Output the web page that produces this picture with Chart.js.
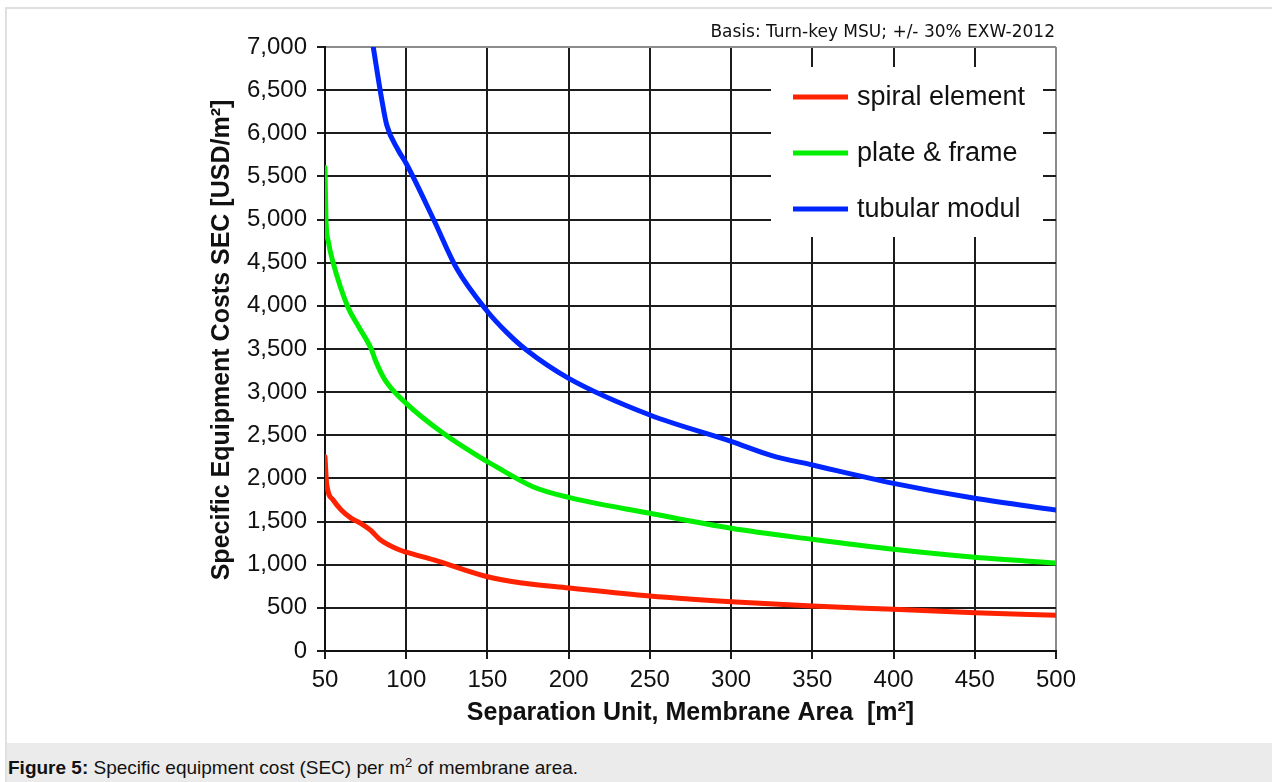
<!DOCTYPE html>
<html><head><meta charset="utf-8">
<script src="https://cdn.jsdelivr.net/npm/chart.js@4/dist/chart.umd.min.js"></script>
<style>
html,body{margin:0;padding:0;background:#fff;width:1272px;height:782px;overflow:hidden;font-family:"Liberation Sans",Arial,sans-serif;}
#frame{position:absolute;left:5px;top:7px;width:1290px;height:800px;border-left:2px solid #e0e0e0;border-top:2px solid #e0e0e0;}
#caption{position:absolute;left:7px;top:743px;width:1290px;height:45px;background:#ebebeb;color:#111;font-size:19px;}
#caption .t{position:absolute;left:1px;top:14px;white-space:nowrap;}
#caption sup{font-size:13px;vertical-align:7px;line-height:0;}
#wrap{position:absolute;left:0;top:0;width:1272px;height:743px;}
#basis{position:absolute;right:217px;top:21px;font-family:"DejaVu Sans";font-size:17px;color:#111;white-space:nowrap;}
</style></head>
<body>
<div id="frame"></div>
<div id="caption"><div class="t"><b>Figure 5:</b> Specific equipment cost (SEC) per m<sup>2</sup> of membrane area.</div></div>
<div id="wrap"><canvas id="c" width="1272" height="743"></canvas></div>
<div id="basis">Basis: Turn-key MSU; +/- 30% EXW-2012</div>
<script>
// ---- data ----
const seriesLabels = ['spiral element', 'plate & frame', 'tubular modul'];
const seriesColors = ['#ff2200', '#00ee00', '#0026ff'];

const spiralArea = [50, 51, 55, 60, 66, 72, 78, 84, 96, 100, 117, 150, 170, 200, 250, 300, 350, 400, 450, 500];
const spiralCost = [2250, 1940, 1750, 1635, 1540, 1480, 1400, 1290, 1170, 1145, 1055, 860, 790, 730, 637, 571, 521, 483, 444, 415];

const plateArea = [50, 50.6, 52, 55, 64, 71, 78.7, 81, 87, 100, 123, 145, 150, 178, 200, 250, 300, 350, 400, 450, 500];
const plateCost = [5600, 5000, 4750, 4500, 3990, 3750, 3490, 3370, 3140, 2870, 2520, 2250, 2195, 1904, 1780, 1596, 1422, 1294, 1178, 1086, 1020];

const tubularArea = [79.7, 85, 88, 95, 100, 117, 131, 150, 162, 174, 200, 250, 300, 325, 350, 400, 450, 500];
const tubularCost = [7000, 6385, 6096, 5806, 5650, 4995, 4435, 3935, 3690, 3488, 3160, 2735, 2430, 2265, 2156, 1943, 1770, 1634];

const xMin = 50, xMax = 500, xStep = 50;
const yMin = 0, yMax = 7000, yStep = 500;

const xTitle = 'Separation Unit, Membrane Area  [m²]';
const yTitle = 'Specific Equipment Costs SEC [USD/m²]';

function pts(xs, ys){ return xs.map((x,i)=>({x:x, y:ys[i]})); }

const GRID = '#1c1c1c', FRAME = '#8c8c8c', TXT = '#111';
const FONT = '"Liberation Sans", Arial, sans-serif';

const legendPlugin = {
  id: 'boxLegend',
  afterDatasetsDraw(chart){
    const ctx = chart.ctx, a = chart.chartArea;
    const bx = a.right - 285, by = a.top + 20, bw = 272, bh = 170;
    ctx.save();
    ctx.fillStyle = '#fff';
    ctx.fillRect(bx, by, bw, bh);
    chart.data.datasets.forEach((ds, i)=>{
      const cy = by + 30 + i*56;
      ctx.strokeStyle = ds.borderColor;
      ctx.lineWidth = 5;
      ctx.beginPath(); ctx.moveTo(bx+22, cy); ctx.lineTo(bx+77, cy); ctx.stroke();
      ctx.fillStyle = TXT;
      ctx.font = '27px ' + FONT;
      ctx.textBaseline = 'middle'; ctx.textAlign = 'left';
      ctx.fillText(ds.label, bx+86, cy+1);
    });
    ctx.restore();
  }
};

// y-axis title drawn slightly above the plot centre, as in the reference
const yTitlePlugin = {
  id: 'yTitle',
  afterDraw(chart){
    const ctx = chart.ctx, a = chart.chartArea, ys = chart.scales.y;
    ctx.save();
    ctx.translate(ys.left + 22, (a.top + a.bottom) / 2 - 9);
    ctx.rotate(-Math.PI / 2);
    ctx.font = 'bold 25px ' + FONT;
    ctx.fillStyle = TXT;
    ctx.textAlign = 'center'; ctx.textBaseline = 'middle';
    ctx.fillText(yTitle, 0, 0);
    ctx.restore();
  }
};

new Chart(document.getElementById('c'), {
  type: 'line',
  data: {
    datasets: [
      {label: seriesLabels[0], data: pts(spiralArea, spiralCost), borderColor: seriesColors[0]},
      {label: seriesLabels[1], data: pts(plateArea, plateCost), borderColor: seriesColors[1]},
      {label: seriesLabels[2], data: pts(tubularArea, tubularCost), borderColor: seriesColors[2]}
    ].map(d=>Object.assign(d, {borderWidth:5, pointRadius:0, fill:false, cubicInterpolationMode:'monotone', borderCapStyle:'round', borderJoinStyle:'round'}))
  },
  options: {
    responsive: false,
    animation: false,
    devicePixelRatio: 1,
    layout: {padding: {left: 200, right: 216, top: 47, bottom: 0}},
    plugins: {legend: {display: false}, tooltip: {enabled: false}},
    scales: {
      x: {
        type: 'linear', min: xMin, max: xMax,
        ticks: {stepSize: xStep, padding: 7, color: TXT, font: {size: 24, family: FONT}},
        grid: {color: c => (c.tick && c.tick.value === xMax) ? FRAME : GRID, tickColor: GRID, lineWidth: 2, tickLength: 8},
        border: {color: TXT, width: 2},
        title: {display: true, text: xTitle, color: TXT, font: {size: 25, weight: 'bold', family: FONT}, padding: {top: 0, bottom: 15}},
        afterFit: s => { s.height = 92; }
      },
      y: {
        min: yMin, max: yMax,
        ticks: {stepSize: yStep, padding: 10, color: TXT, font: {size: 24, family: FONT}, callback: v => v.toLocaleString('en-US')},
        grid: {color: c => (c.tick && c.tick.value === yMax) ? FRAME : GRID, tickColor: GRID, lineWidth: 2, tickLength: 8},
        border: {color: TXT, width: 2},
        title: {display: false, text: yTitle},
        afterFit: s => { s.width = 125; }
      }
    }
  },
  plugins: [legendPlugin, yTitlePlugin]
});
</script>
</body></html>
